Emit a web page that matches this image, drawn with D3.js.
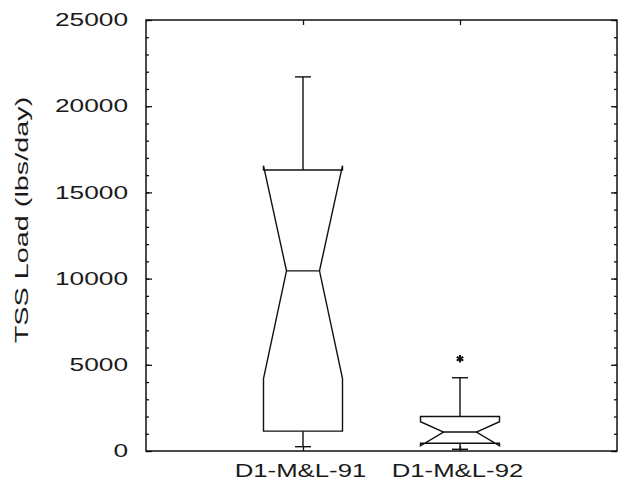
<!DOCTYPE html>
<html>
<head>
<meta charset="utf-8">
<script src="https://cdn.jsdelivr.net/npm/d3@7"></script>
<style>
  html, body { margin: 0; padding: 0; background: #fff; }
  svg { display: block; }
  text { font-family: "Liberation Sans", Arial, sans-serif; fill: #1a1a1a; }
</style>
</head>
<body>
<svg id="chart" width="623" height="491"></svg>
<script>
// ---- data ----
const categories = ["D1-M&L-91", "D1-M&L-92"];
const whiskerLow  = [250, 100];
const q1          = [1150, 450];
const notchLow    = [4200, 300];
const median      = [10450, 1100];
const notchHigh   = [16550, 1700];
const q3          = [16300, 2000];
const whiskerHigh = [21700, 4250];
const outliers    = [[], [5350]];
const yMajorTicks = [0, 5000, 10000, 15000, 20000, 25000];
const yMinorTicks = d3.range(0, 25001, 1000);
const yLabel = "TSS Load (lbs/day)";

// ---- layout ----
const svg = d3.select("#chart");
const L = 146, R = 617, T = 20, B = 451;
const x = d3.scalePoint().domain(categories).range([L, R]).padding(1);
const y = d3.scaleLinear().domain([0, 25000]).range([B, T]);

const stroke = "#111";
function stretch(sel, f) {
  sel.each(function () {
    const w = this.getComputedTextLength();
    d3.select(this).attr("textLength", w * f).attr("lengthAdjust", "spacingAndGlyphs");
  });
}

// minor & major ticks left / right (inward)
svg.append("g").attr("transform", `translate(${L},0)`)
  .call(d3.axisLeft(y).tickValues(yMinorTicks).tickSize(-3).tickFormat(""))
  .call(g => g.select(".domain").remove());
const leftAxis = svg.append("g").attr("transform", `translate(${L},0)`)
  .call(d3.axisLeft(y).tickValues(yMajorTicks).tickSize(-6).tickPadding(18).tickFormat(d3.format("d")))
  .call(g => g.select(".domain").remove());
leftAxis.selectAll("text").attr("font-size", 18).attr("fill", "#1a1a1a")
  .style("font-family", '"Liberation Sans", Arial, sans-serif');
stretch(leftAxis.selectAll("text"), 1.46);

svg.append("g").attr("transform", `translate(${R},0)`)
  .call(d3.axisRight(y).tickValues(yMinorTicks).tickSize(-3).tickFormat(""))
  .call(g => g.select(".domain").remove());
svg.append("g").attr("transform", `translate(${R},0)`)
  .call(d3.axisRight(y).tickValues(yMajorTicks).tickSize(-6).tickFormat(""))
  .call(g => g.select(".domain").remove());

// top / bottom ticks at categories
svg.append("g").attr("transform", `translate(0,${T})`)
  .call(d3.axisTop(x).tickSize(-5).tickFormat(""))
  .call(g => g.select(".domain").remove());
const bottomAxis = svg.append("g").attr("transform", `translate(0,${B})`)
  .call(d3.axisBottom(x).tickSize(-5).tickPadding(13))
  .call(g => g.select(".domain").remove());
bottomAxis.selectAll("text").attr("font-size", 18).attr("fill", "#1a1a1a")
  .attr("dx", -3)
  .style("font-family", '"Liberation Sans", Arial, sans-serif');
stretch(bottomAxis.selectAll("text"), 1.43);

svg.selectAll(".tick line").attr("stroke", stroke).attr("stroke-width", 1.3);

// frame
svg.append("rect").attr("x", L).attr("y", T).attr("width", R - L).attr("height", B - T)
  .attr("fill", "none").attr("stroke", stroke).attr("stroke-width", 1.5);

// y label
const yl = svg.append("text")
  .attr("transform", `translate(28,220) rotate(-90)`)
  .attr("text-anchor", "middle")
  .attr("font-size", 18)
  .text(yLabel);
stretch(yl, 1.6);

// ---- boxes ----
const halfW = 39.5, innerW = 16.5, capW = 8;
const boxes = svg.append("g").attr("fill", "none").attr("stroke", stroke).attr("stroke-width", 1.4);
categories.forEach((c, i) => {
  const cx = x(c);
  const l = cx - halfW, r = cx + halfW, li = cx - innerW, ri = cx + innerW;
  const p = d3.path();
  p.moveTo(l, y(q3[i]));
  p.lineTo(r, y(q3[i]));
  p.lineTo(r, y(notchHigh[i]));
  p.lineTo(ri, y(median[i]));
  p.lineTo(r, y(notchLow[i]));
  p.lineTo(r, y(q1[i]));
  p.lineTo(l, y(q1[i]));
  p.lineTo(l, y(notchLow[i]));
  p.lineTo(li, y(median[i]));
  p.lineTo(l, y(notchHigh[i]));
  p.closePath();
  boxes.append("path").attr("d", p.toString());
  boxes.append("line").attr("x1", li).attr("x2", ri).attr("y1", y(median[i])).attr("y2", y(median[i]));
  // whiskers
  boxes.append("line").attr("x1", cx).attr("x2", cx).attr("y1", y(q3[i])).attr("y2", y(whiskerHigh[i]));
  boxes.append("line").attr("x1", cx - capW).attr("x2", cx + capW).attr("y1", y(whiskerHigh[i])).attr("y2", y(whiskerHigh[i]));
  boxes.append("line").attr("x1", cx).attr("x2", cx).attr("y1", y(q1[i])).attr("y2", y(whiskerLow[i]));
  boxes.append("line").attr("x1", cx - capW).attr("x2", cx + capW).attr("y1", y(whiskerLow[i])).attr("y2", y(whiskerLow[i]));
  // outliers
  outliers[i].forEach(v => {
    svg.append("path")
      .attr("d", d3.symbol(d3.symbolAsterisk, 40)())
      .attr("transform", `translate(${cx},${y(v)})`)
      .attr("fill", "none").attr("stroke", stroke).attr("stroke-width", 2);
  });
});
</script>
</body>
</html>
